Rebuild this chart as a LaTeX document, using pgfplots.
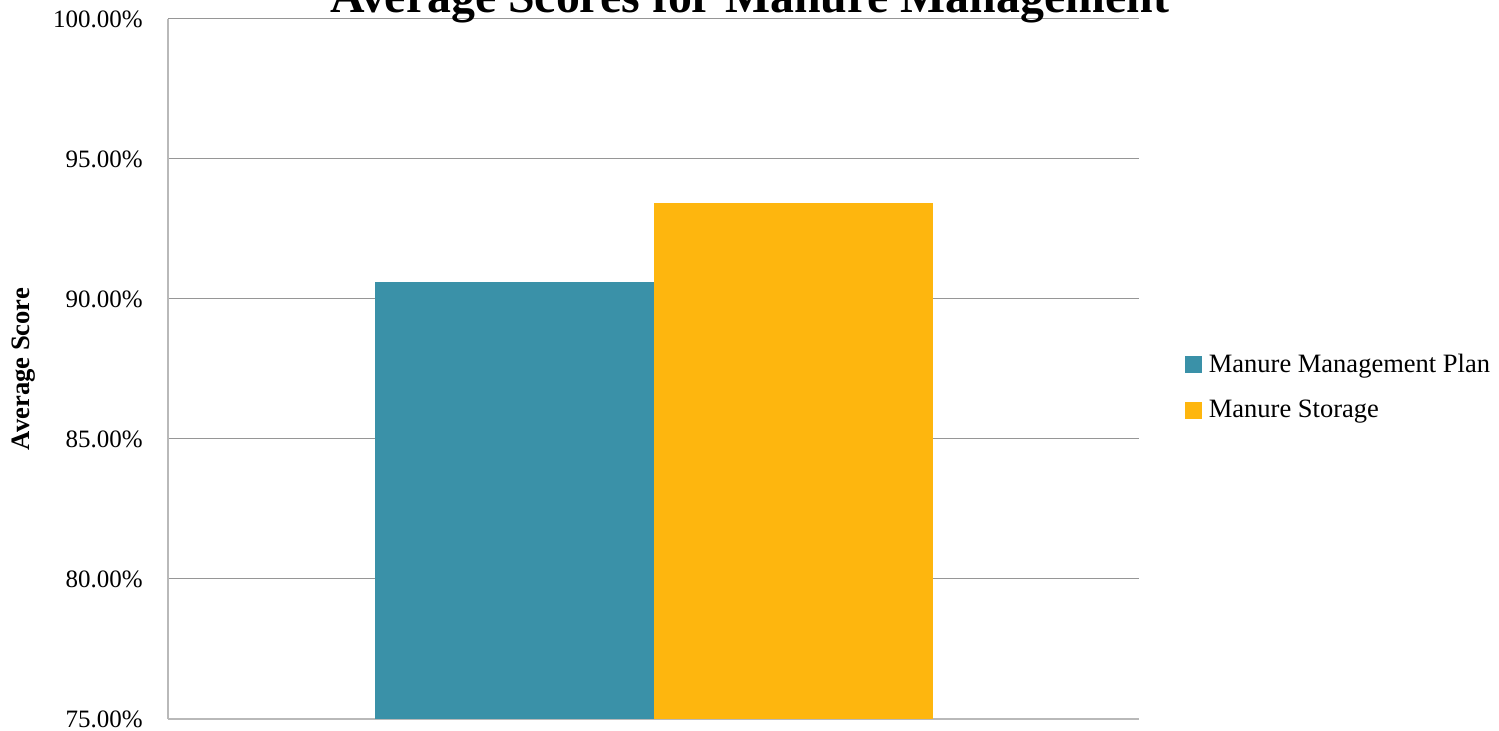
\documentclass[border=0pt]{standalone}
\usepackage{fontspec}
\setmainfont{Liberation Serif}
\usepackage{pgfplots}
\pgfplotsset{compat=1.18}
\definecolor{teal1}{RGB}{58,145,168}
\definecolor{gold1}{RGB}{254,182,14}
\definecolor{gridc}{RGB}{150,150,150}
\definecolor{axisc}{RGB}{185,185,185}
\pgfplotsset{sqlegend/.style={legend image code/.code={\fill[##1,draw=none] (0pt,-4.25pt) rectangle (8.5pt,4.25pt);}}}
\begin{document}
\begin{tikzpicture}
\path[use as bounding box] (0,0) rectangle (749.5pt,365.5pt);
\begin{axis}[
  at={(84pt,6pt)}, anchor=south west,
  scale only axis, width=485.5pt, height=350pt,
  xmin=-1, xmax=1, ymin=75, ymax=100,
  ybar=0pt, bar width=139.5pt,
  xtick=\empty,
  ytick={75,80,85,90,95,100},
  yticklabels={75.00\%,80.00\%,85.00\%,90.00\%,95.00\%,100.00\%},
  ymajorgrids, grid style={draw=gridc, line width=0.5pt},
  major tick length=0pt,
  axis x line*=bottom, axis y line*=left,
  axis line style={draw=axisc, line width=0.75pt, -},
  yticklabel style={font=\fontsize{12.5}{14}\selectfont, inner sep=0pt, xshift=-12.5pt},
  ylabel={Average Score},
  ylabel style={at={(rel axis cs:0,0.5)}, anchor=center, yshift=72pt, font=\bfseries\fontsize{13.3}{15}\selectfont},
  legend style={at={(1,0.474)}, anchor=west, xshift=23pt, draw=none, fill=none, inner sep=0pt,
    font=\fontsize{13.25}{15}\selectfont, row sep=9pt, column sep=1.5pt, nodes={inner sep=1.75pt}},
  legend cell align=left,
]
\addplot[fill=teal1, draw=none, sqlegend] coordinates {(0,90.61)};
\addlegendentry{Manure Management Plan}
\addplot[fill=gold1, draw=none, sqlegend] coordinates {(0,93.43)};
\addlegendentry{Manure Storage}
\end{axis}
\node[anchor=base, font=\bfseries\fontsize{23.9}{28}\selectfont] at (374.75pt,359pt) {Average Scores for Manure Management};
\end{tikzpicture}
\end{document}
